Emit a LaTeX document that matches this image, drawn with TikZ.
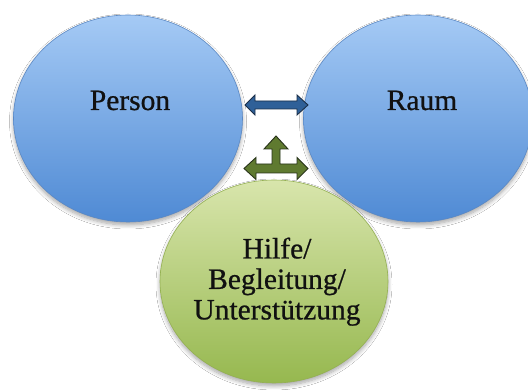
\documentclass[tikz,border=0pt]{standalone}
\usepackage{fontspec}
\setmainfont{Liberation Serif}
\usetikzlibrary{shapes.geometric,shadows.blur,calc}

\definecolor{blueTop}{HTML}{A5CAF5}
\definecolor{blueBot}{HTML}{4F8AD4}
\definecolor{blueLine}{HTML}{5A88C4}
\definecolor{greenTop}{HTML}{D8E5AC}
\definecolor{greenBot}{HTML}{96B84F}
\definecolor{greenLine}{HTML}{94B052}
\definecolor{arrowBlue}{HTML}{2F6098}
\definecolor{arrowBlueLine}{HTML}{1B2F48}
\definecolor{arrowGreen}{HTML}{5F7A30}
\definecolor{arrowGreenLine}{HTML}{28331A}
\definecolor{ink}{HTML}{111111}

\tikzset{
  bubble/.style={ellipse, inner sep=0pt, line width=0.6pt,
    blur shadow={shadow xshift=0pt, shadow yshift=-3pt,
      shadow blur steps=8, shadow blur radius=4pt, shadow opacity=35}},
  bluebubble/.style={bubble, minimum width=229pt, minimum height=207pt,
    top color=blueTop, bottom color=blueBot, draw=blueLine},
  greenbubble/.style={bubble, minimum width=228pt, minimum height=203pt,
    top color=greenTop, bottom color=greenBot, draw=greenLine},
  caption/.style={font=\fontsize{29.5}{30.5}\selectfont\addfontfeature{FakeBold=0.7},
    text=ink, inner sep=0pt, align=center},
  bluearrow/.style={fill=arrowBlue, draw=arrowBlueLine, line width=0.9pt,
    line join=miter},
  greenarrow/.style={fill=arrowGreen, draw=arrowGreenLine, line width=0.9pt,
    line join=miter}
}

\begin{document}
\begin{tikzpicture}[x=1pt, y=1pt]
\useasboundingbox[fill=white] (0,0) rectangle (528,390);

% the three circles
\node[bluebubble] (person) at (128,271.5) {};
\node[bluebubble] (raum) at (418,271.5) {};
\node[greenbubble] (hilfe) at (274,108.5) {};

% their texts
\node[caption, anchor=base] (tperson) at (130,280) {Person};
\node[caption, anchor=base] (traum) at (422,280) {Raum};
\node[caption] (thilfe) at (277,108.3) {Hilfe/\\Begleitung/\\Unterstützung};

% ends of the two-way arrow between Person and Raum
\coordinate (pr1) at (245,285);
\coordinate (pr2) at (308,285);
\draw[bluearrow]
  (pr1) -- ($(pr1)+(10,10)$) -- ($(pr1)+(10,4)$) -- ($(pr2)+(-11,4)$)
  -- ($(pr2)+(-11,10)$) -- (pr2) -- ($(pr2)+(-11,-10)$) -- ($(pr2)+(-11,-4)$)
  -- ($(pr1)+(10,-4)$) -- ($(pr1)+(10,-10)$) -- cycle;

% three-way arrow pointing left, right and up above the green circle
\coordinate (gl) at (244,221.5);
\coordinate (gr) at (308,221.5);
\coordinate (gu) at (276,254);
\draw[greenarrow]
  (gl) -- ($(gl)+(12,11)$) -- ($(gl)+(12,4.5)$) -- ($(gu)+(-4,-28)$)
  -- ($(gu)+(-4,-13)$) -- ($(gu)+(-12,-13)$) -- (gu) -- ($(gu)+(12,-13)$)
  -- ($(gu)+(4,-13)$) -- ($(gu)+(4,-28)$) -- ($(gr)+(-11,4.5)$)
  -- ($(gr)+(-11,11)$) -- (gr) -- ($(gr)+(-11,-11)$) -- ($(gr)+(-11,-4.5)$)
  -- ($(gl)+(12,-4.5)$) -- ($(gl)+(12,-11)$) -- cycle;
\end{tikzpicture}
\end{document}
